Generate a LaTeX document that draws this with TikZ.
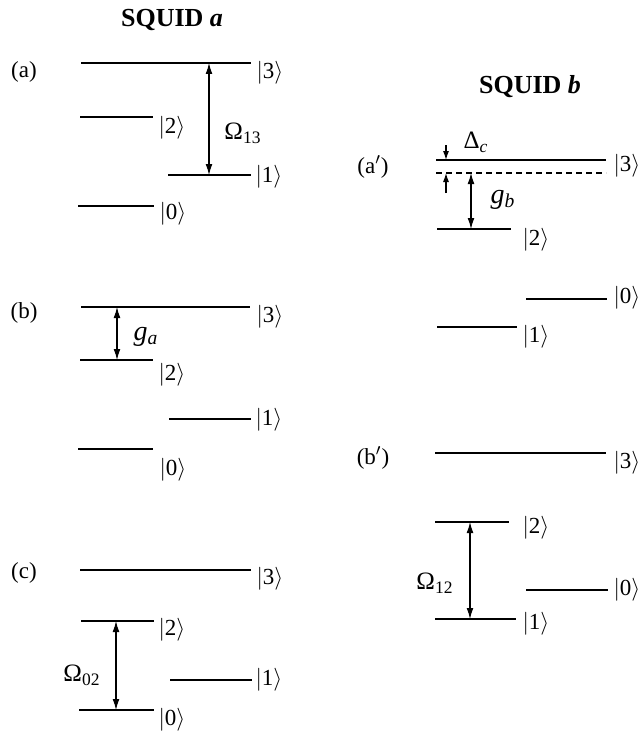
\RequirePackage{fix-cm}
\documentclass[tikz,border=0pt]{standalone}
\usepackage{fontspec}
\setmainfont{Liberation Serif}
\usetikzlibrary{arrows.meta}
\tikzset{
  every picture/.style={x=0.5pt, y=-0.5pt, font=\fontsize{11.5}{13}\selectfont},
  level/.style={line width=1.2pt},
  virt/.style={line width=0.6pt, dash pattern=on 3pt off 2pt},
  trans/.style={{Latex[length=5.5pt,width=3.4pt]}-{Latex[length=5.5pt,width=3.4pt]}, line width=0.55pt},
  detune/.style={-{Latex[length=4.5pt,width=3pt]}, line width=0.55pt},
  ket/.style={inner sep=0pt},
  tag/.style={inner sep=0pt},
  coup/.style={font=\fontsize{14}{16}\selectfont},
  rabi/.style={font=\fontsize{12.5}{14}\selectfont},
  title/.style={font=\fontsize{13}{15}\selectfont\bfseries},
}
\newcommand{\ket}[1]{$|$#1$\rangle$}

\begin{document}
\begin{tikzpicture}
  \useasboundingbox (0,0) rectangle (638,733);
  % SQUID a
  \node[title] (ta) at (172,20) {SQUID \textit{a}};
  % (a)
  \node[tag] (pa) at (24,72) {(a)};
  \draw[level] (81,63) coordinate (a3l) -- (251,63) coordinate (a3r);
  \draw[level] (80,117) coordinate (a2l) -- (153,117) coordinate (a2r);
  \draw[level] (168,175) coordinate (a1l) -- (251,175) coordinate (a1r);
  \draw[level] (78,206) coordinate (a0l) -- (154,206) coordinate (a0r);
  \node[ket] (ka3) at (270,73) {\ket{3}};
  \node[ket] (ka2) at (172,128) {\ket{2}};
  \node[ket] (ka1) at (269,177) {\ket{1}};
  \node[ket] (ka0) at (173,214) {\ket{0}};
  \coordinate (a13t) at (209,63); \coordinate (a13b) at (209,175);
  \draw[trans] (a13t) -- (a13b);
  \node[rabi] (wa) at (243,133) {Ω$_{\mathrm{13}}$};
  % (b)
  \node[tag] (pb) at (24,313) {(b)};
  \draw[level] (81,307) coordinate (b3l) -- (250,307) coordinate (b3r);
  \draw[level] (80,360) coordinate (b2l) -- (153,360) coordinate (b2r);
  \draw[level] (169,419) coordinate (b1l) -- (251,419) coordinate (b1r);
  \draw[level] (78,449) coordinate (b0l) -- (153,449) coordinate (b0r);
  \node[ket] (kb3) at (270,317) {\ket{3}};
  \node[ket] (kb2) at (172,375) {\ket{2}};
  \node[ket] (kb1) at (269,420) {\ket{1}};
  \node[ket] (kb0) at (173,470) {\ket{0}};
  \coordinate (gat) at (117,307); \coordinate (gab) at (117,360);
  \draw[trans] (gat) -- (gab);
  \node[coup] (ga) at (146,337) {$\mathit{g}_{\mathit{a}}$};
  % (c)
  \node[tag] (pc) at (24,573) {(c)};
  \draw[level] (80,570) coordinate (c3l) -- (251,570) coordinate (c3r);
  \draw[level] (81,621) coordinate (c2l) -- (154,621) coordinate (c2r);
  \draw[level] (170,680) coordinate (c1l) -- (252,680) coordinate (c1r);
  \draw[level] (79,710) coordinate (c0l) -- (154,710) coordinate (c0r);
  \node[ket] (kc3) at (270,579) {\ket{3}};
  \node[ket] (kc2) at (172,630) {\ket{2}};
  \node[ket] (kc1) at (269,680) {\ket{1}};
  \node[ket] (kc0) at (172,720) {\ket{0}};
  \coordinate (c02t) at (116,621); \coordinate (c02b) at (116,710);
  \draw[trans] (c02t) -- (c02b);
  \node[rabi] (wc) at (82,675) {Ω$_{\mathrm{02}}$};
  % SQUID b
  \node[title] (tb) at (530,87) {SQUID \textit{b}};
  % (a')
  \node[tag] (pa') at (373,167) {(a$'$)};
  \draw[level] (436,160) coordinate (d3l) -- (606,160) coordinate (d3r);
  \draw[virt] (436,173) coordinate (dvl) -- (606,173) coordinate (dvr);
  \draw[level] (437,229) coordinate (d2l) -- (511,229) coordinate (d2r);
  \draw[level] (526,299) coordinate (d0l) -- (607,299) coordinate (d0r);
  \draw[level] (437,327) coordinate (d1l) -- (517,327) coordinate (d1r);
  \node[ket] (kd3) at (627,166) {\ket{3}};
  \node[ket] (kd2) at (536,240) {\ket{2}};
  \node[ket] (kd0) at (627,298) {\ket{0}};
  \node[ket] (kd1) at (536,337) {\ket{1}};
  \coordinate (dct) at (446,145); \coordinate (dc3) at (446,160);
  \coordinate (dcb) at (446,193); \coordinate (dcv) at (446,173);
  \draw[detune] (dct) -- (dc3);
  \draw[detune] (dcb) -- (dcv);
  \node[rabi] (dc) at (476,142) {Δ$_{\mathit{c}}$};
  \coordinate (gbt) at (471,173); \coordinate (gbb) at (471,229);
  \draw[trans] (gbt) -- (gbb);
  \node[coup] (gb) at (503,200) {$\mathit{g}_{\mathit{b}}$};
  % (b')
  \node[tag] (pb') at (373,458) {(b$'$)};
  \draw[level] (435,453) coordinate (e3l) -- (606,453) coordinate (e3r);
  \draw[level] (435,522) coordinate (e2l) -- (509,522) coordinate (e2r);
  \draw[level] (526,590) coordinate (e0l) -- (608,590) coordinate (e0r);
  \draw[level] (435,619) coordinate (e1l) -- (516,619) coordinate (e1r);
  \node[ket] (ke3) at (627,463) {\ket{3}};
  \node[ket] (ke2) at (536,528) {\ket{2}};
  \node[ket] (ke0) at (627,590) {\ket{0}};
  \node[ket] (ke1) at (536,624) {\ket{1}};
  \coordinate (e12t) at (470,522); \coordinate (e12b) at (470,619);
  \draw[trans] (e12t) -- (e12b);
  \node[rabi] (we) at (435,583) {Ω$_{\mathrm{12}}$};
\end{tikzpicture}
\end{document}
